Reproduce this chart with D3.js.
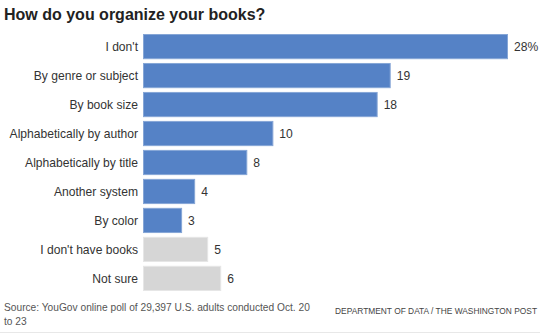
<!DOCTYPE html>
<html><head><meta charset="utf-8">
<script src="https://cdn.jsdelivr.net/npm/d3@7"></script>
<style>body{margin:0;background:#fff;} svg{display:block;}</style>
</head><body>
<svg id="c" width="540" height="334"></svg>
<script>
const categories = ["I don't","By genre or subject","By book size","Alphabetically by author","Alphabetically by title","Another system","By color","I don't have books","Not sure"];
const values = [28,19,18,10,8,4,3,5,6];
const valueLabels = ["28%","19","18","10","8","4","3","5","6"];
const groups = ["main","main","main","main","main","main","main","other","other"];

const svg = d3.select("#c");
const font = "'Liberation Sans', Arial, sans-serif";
const x = d3.scaleLinear().domain([0,28]).range([143,508]);
const y = d3.scaleBand().domain(categories).range([34,291]).paddingInner(0.13).paddingOuter(0);

svg.append("text").attr("x",4).attr("y",20).attr("font-family",font).attr("font-weight","bold")
  .attr("font-size",16).attr("fill","#222").text("How do you organize your books?");

const row = svg.selectAll("g.row").data(categories).join("g").attr("class","row");
row.append("rect")
  .attr("x",x(0)+0.5).attr("y",d=>y(d)+0.5)
  .attr("width",(d,i)=>x(values[i])-x(0)-1).attr("height",y.bandwidth()-1)
  .attr("fill",(d,i)=>groups[i]==="main"?"#5582c6":"#d6d6d6")
  .attr("stroke",(d,i)=>groups[i]==="main"?"#86a6d6":"#e6e6e6").attr("stroke-width",1);
row.append("text").attr("x",138).attr("y",d=>y(d)+y.bandwidth()/2+4.3)
  .attr("text-anchor","end").attr("font-family",font).attr("font-size",12.1).attr("fill","#333").text(d=>d);
row.append("text").attr("x",(d,i)=>x(values[i])+6).attr("y",d=>y(d)+y.bandwidth()/2+4.3)
  .attr("font-family",font).attr("font-size",12.1).attr("fill","#333").text((d,i)=>valueLabels[i]);

svg.append("text").attr("x",4).attr("y",311).attr("font-family",font).attr("font-size",10.2).attr("fill","#555")
  .text("Source: YouGov online poll of 29,397 U.S. adults conducted Oct. 20");
svg.append("text").attr("x",4).attr("y",325).attr("font-family",font).attr("font-size",10.2).attr("fill","#555")
  .text("to 23");
svg.append("text").attr("x",537).attr("y",314).attr("text-anchor","end").attr("font-family",font).attr("font-size",8.4).attr("fill","#444")
  .text("DEPARTMENT OF DATA / THE WASHINGTON POST");
svg.append("line").attr("x1",0).attr("x2",540).attr("y1",332.5).attr("y2",332.5).attr("stroke","#e8e8e8");
</script>
</body></html>
